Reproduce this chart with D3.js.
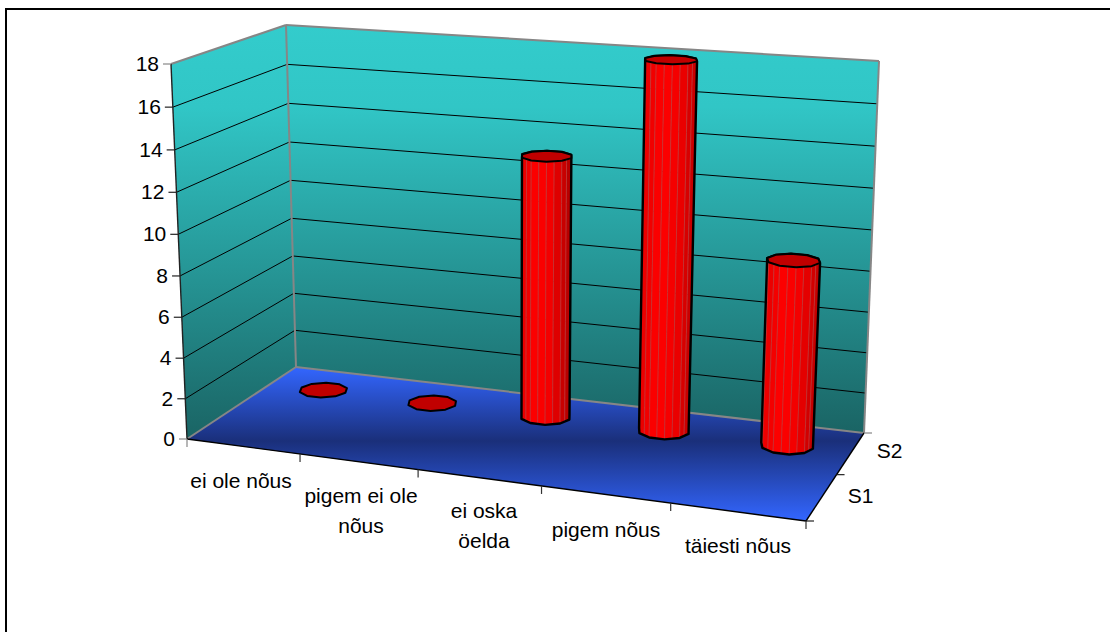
<!DOCTYPE html>
<html>
<head>
<meta charset="utf-8">
<script src="https://cdn.jsdelivr.net/npm/d3@7"></script>
<style>
    html, body { margin: 0; padding: 0; background: #fff; }
    text { font-family: "Liberation Sans", Arial, sans-serif; font-size: 21px; fill: #000; }
</style>
</head>
<body>
<div id="chart"></div>
<script>
// Chart data
const categories = [['ei ole nõus'], ['pigem ei ole', 'nõus'], ['ei oska', 'öelda'], ['pigem nõus'], ['täiesti nõus']];
const seriesNames = ['S1', 'S2'];
const s1Values = [];
const s2Values = [0, 0, 13, 18, 9];
const valueTicks = [0, 2, 4, 6, 8, 10, 12, 14, 16, 18];

const width = 1110;
const height = 632;

// Corners of the 3D box on the page: floor and ceiling, front-left first, clockwise seen from above
const floorCorners = [[187, 439], [296, 367], [864, 433], [806, 521]];
const ceilCorners = [[171, 64], [286, 25], [879, 61], [827, 109.5]];

// Maps the unit square onto a quad with a projective transform
function makeHomography(q) {
    const [[x0, y0], [x1, y1], [x2, y2], [x3, y3]] = q;
    const dx1 = x1 - x2, dx2 = x3 - x2, sx = x0 - x1 + x2 - x3;
    const dy1 = y1 - y2, dy2 = y3 - y2, sy = y0 - y1 + y2 - y3;
    const det = dx1 * dy2 - dx2 * dy1;
    const g = (sx * dy2 - dx2 * sy) / det;
    const h = (dx1 * sy - sx * dy1) / det;
    const a = x1 - x0 + g * x1, b = x3 - x0 + h * x3;
    const d = y1 - y0 + g * y1, e = y3 - y0 + h * y3;
    // s runs front-left -> back-left, t runs front-left -> front-right
    return (s, t) => {
        const w = g * s + h * t + 1;
        return [(a * s + b * t + x0) / w, (d * s + e * t + y0) / w];
    };
}

const floorMap = makeHomography(floorCorners);
const ceilMap = makeHomography(ceilCorners);

// Scales
const xScale = d3.scaleLinear().domain([0, categories.length]).range([0, 1]);
const depthScale = d3.scaleLinear().domain([0, seriesNames.length]).range([0, 1]);
const zScale = d3.scaleLinear().domain([0, 18]).range([0, 1]);

// slight vertical perspective: the top of the box is closer to the viewer
const warp = 0.04;

function project(x, depth, z) {
    const s = depthScale(depth), t = xScale(x);
    const a = floorMap(s, t), b = ceilMap(s, t);
    const f = 1 - zScale(z);
    return d3.interpolateNumberArray(b, a)(f * (1 + warp) / (1 + warp * f));
}

const path = pts => 'M' + pts.map(p => p.join(',')).join('L') + 'Z';
const line = (a, b) => `M${a[0]},${a[1]}L${b[0]},${b[1]}`;

const svg = d3.select('#chart').append('svg')
    .attr('width', width)
    .attr('height', height)
    .style('display', 'block');

// Gradients
const defs = svg.append('defs');

function addGradient(id, y1, y2, stops) {
    const g = defs.append('linearGradient')
        .attr('id', id)
        .attr('gradientUnits', 'userSpaceOnUse')
        .attr('x1', 0).attr('x2', 0)
        .attr('y1', y1).attr('y2', y2);
    stops.forEach(([o, c]) => g.append('stop').attr('offset', o).attr('stop-color', c));
}

addGradient('wallBack', 25, 433, [[0, '#33cccc'], [0.2, '#31c6c6'], [1, '#1a6464']]);
addGradient('wallSide', 25, 439, [[0, '#33cccc'], [0.2, '#31c6c6'], [1, '#1a6464']]);
addGradient('floor', 367, 521, [[0, '#3366ff'], [0.48, '#1a2f7a'], [1, '#3366ff']]);

// Frame, only top and left are visible
svg.append('path')
    .attr('d', `M6,${height}V9H${width}`)
    .attr('fill', 'none')
    .attr('stroke', '#000')
    .attr('stroke-width', 2);

const nCat = categories.length, nSer = seriesNames.length;

// Walls and floor
svg.append('path')
    .attr('d', path([project(0, 0, 0), project(0, 0, 18), project(0, nSer, 18), project(0, nSer, 0)]))
    .attr('fill', 'url(#wallSide)');
svg.append('path')
    .attr('d', path([project(0, nSer, 0), project(0, nSer, 18), project(nCat, nSer, 18), project(nCat, nSer, 0)]))
    .attr('fill', 'url(#wallBack)');
svg.append('path')
    .attr('d', path([project(0, 0, 0), project(0, nSer, 0), project(nCat, nSer, 0), project(nCat, 0, 0)]))
    .attr('fill', 'url(#floor)');

// Grid lines
valueTicks.filter(v => v > 0 && v < 18).forEach(v => {
    svg.append('path')
        .attr('d', 'M' + [project(0, 0, v), project(0, nSer, v), project(nCat, nSer, v)].map(p => p.join(',')).join('L'))
        .attr('fill', 'none')
        .attr('stroke', '#000')
        .attr('stroke-width', 1);
});

// Gray wall edges
const edge = (a, b, color) => svg.append('path')
    .attr('d', line(a, b))
    .attr('fill', 'none')
    .attr('stroke', color || '#868686')
    .attr('stroke-width', color ? 1.4 : 2);

edge(project(0, 0, 18), project(0, nSer, 18));
edge(project(0, nSer, 18), project(nCat, nSer, 18));
edge(project(0, nSer, 0), project(0, nSer, 18));
edge(project(nCat, nSer, 0), project(nCat, nSer, 18));
edge(project(0, 0, 0), project(0, nSer, 0));
edge(project(0, nSer, 0), project(nCat, nSer, 0));

// Value axis
edge(project(0, 0, 0), project(0, 0, 18), '#222');
valueTicks.forEach(v => {
    const p = project(0, 0, v);
    svg.append('path')
        .attr('d', `M${p[0] - 8},${p[1]}H${p[0]}`)
        .attr('stroke', v === 0 || v === 18 ? '#868686' : '#222')
        .attr('stroke-width', 1.2);
    svg.append('text')
        .attr('x', p[0] - 12)
        .attr('y', p[1] + 7)
        .attr('text-anchor', 'end')
        .text(v);
});

// Category axis
edge(project(0, 0, 0), project(nCat, 0, 0), '#000');
d3.range(nCat + 1).forEach(i => {
    const p = project(i, 0, 0);
    svg.append('path')
        .attr('d', `M${p[0]},${p[1]}v8`)
        .attr('stroke', i === 0 ? '#868686' : '#333')
        .attr('stroke-width', 1.2);
});
const labelY = [488, 503, 518, 537, 553];
const labelX = [241, 361, 484, 606, 738];
categories.forEach((lines, i) => {
    lines.forEach((t, j) => {
        svg.append('text')
            .attr('x', labelX[i])
            .attr('y', labelY[i] + j * 30)
            .attr('text-anchor', 'middle')
            .text(t);
    });
});

// Series axis
edge(project(nCat, 0, 0), project(nCat, nSer, 0), '#000');
d3.range(nSer + 1).forEach(i => {
    const p = project(nCat, i, 0);
    svg.append('path')
        .attr('d', `M${p[0]},${p[1]}h8`)
        .attr('stroke', i === nSer ? '#868686' : '#222')
        .attr('stroke-width', 1.2);
});
seriesNames.forEach((name, i) => {
    const p = project(nCat, i + 0.5, 0);
    svg.append('text')
        .attr('x', p[0] + 26)
        .attr('y', p[1] + 6 - i)
        .text(name);
});

// Columns
const radiusX = 0.205;
const radiusD = 0.2;
const ringSize = 10;

function ring(cx, cd, z) {
    return d3.range(ringSize).map(k => {
        const a = k / ringSize * 2 * Math.PI;
        return project(cx + radiusX * Math.cos(a), cd + radiusD * Math.sin(a), z);
    });
}

// Each ring edge is split in two so the side shows narrow facets
function subdivide(pts) {
    return pts.flatMap((p, k) => {
        const q = pts[(k + 1) % pts.length];
        return [p, [(p[0] + q[0]) / 2, (p[1] + q[1]) / 2]];
    });
}

function drawColumn(cx, cd, value) {
    const g = svg.append('g');
    const topRing = ring(cx, cd, value);
    if (value > 0) {
        const baseRing = ring(cx, cd, 0);
        const base = subdivide(baseRing);
        const top = subdivide(topRing);
        const [minX, maxX] = d3.extent(base.concat(top), p => p[0]);
        const midY = d3.mean(base, p => p[1]);
        const shade = d3.scaleLinear()
            .domain([0, 0.3, 0.6, 1])
            .range(['#e60000', '#ff0000', '#f00000', '#a80000']);
        base.forEach((p, k) => {
            const k2 = (k + 1) % base.length;
            // front half only, the side turned away from the viewer stays hidden
            if (p[1] + base[k2][1] > 2 * midY) {
                const mid = (p[0] + base[k2][0]) / 2;
                g.append('path')
                    .attr('d', path([p, base[k2], top[k2], top[k]]))
                    .attr('fill', shade((mid - minX) / (maxX - minX)))
                    .attr('stroke', '#c83a3a')
                    .attr('stroke-width', 0.6);
            }
        });
        g.append('path')
            .attr('d', path(d3.polygonHull(baseRing.concat(topRing))))
            .attr('fill', 'none')
            .attr('stroke', '#000')
            .attr('stroke-width', 2.4)
            .attr('stroke-linejoin', 'round');
    }
    g.append('path')
        .attr('d', path(topRing))
        .attr('fill', '#c00000')
        .attr('stroke', '#000')
        .attr('stroke-width', 2)
        .attr('stroke-linejoin', 'round');
}

s2Values.forEach((v, i) => drawColumn(i + 0.5, 1.5, v));
</script>
</body>
</html>
